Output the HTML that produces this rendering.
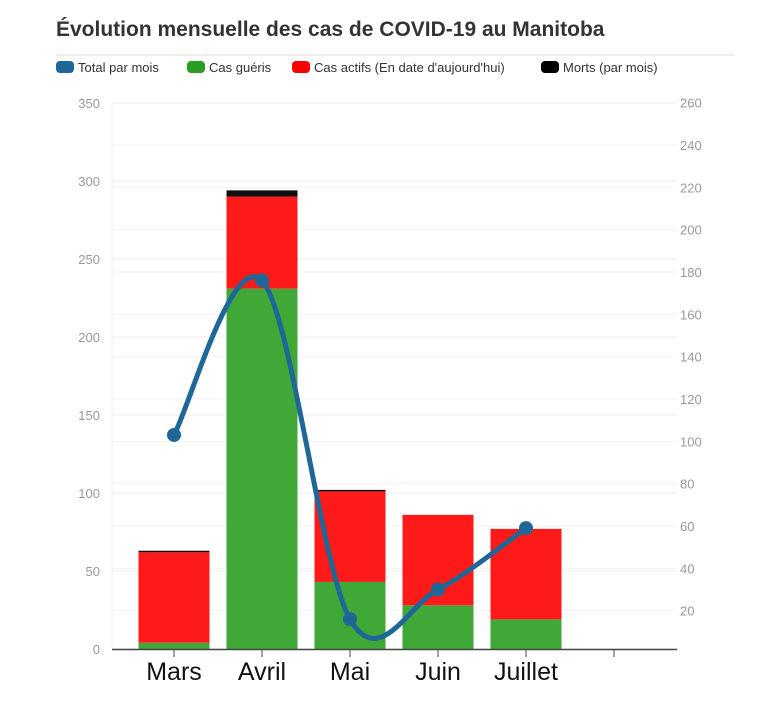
<!DOCTYPE html>
<html><head><meta charset="utf-8"><style>
body{margin:0;background:#fff;font-family:"Liberation Sans",sans-serif;}
</style></head><body>
<svg width="768" height="696" xmlns="http://www.w3.org/2000/svg" font-family="Liberation Sans, sans-serif">
<text x="56" y="36" font-size="21" font-weight="bold" fill="#333">Évolution mensuelle des cas de COVID-19 au Manitoba</text>
<line x1="56" y1="55" x2="734" y2="55" stroke="#ddd"/>
<g id="legend"></g>
<g id="grid"></g><g id="bars"></g><g id="line"></g><g id="axes"></g>
</svg>
<script>
const categories=["Mars","Avril","Mai","Juin","Juillet",""];
const recovered=[4,231,43,28,19];
const active=[58,59,58,58,58];
const deaths=[1,4,1,0,0];
const totals=[103,176,16,30,59];
const leftTicks=[0,50,100,150,200,250,300,350];
const rightTicks=[20,40,60,80,100,120,140,160,180,200,220,240,260];
const NS="http://www.w3.org/2000/svg";
function mk(tag,attrs,parent,text){const e=document.createElementNS(NS,tag);for(const k in attrs)e.setAttribute(k,attrs[k]);if(text!==undefined)e.textContent=text;parent.appendChild(e);return e;}
const yL=v=>649-v*(546/350);
const yR=v=>653-v*(508/240);
const xC=i=>174+88*i;
const grid=document.getElementById('grid'),bars=document.getElementById('bars'),lineG=document.getElementById('line'),axes=document.getElementById('axes'),legend=document.getElementById('legend');
leftTicks.forEach(t=>{
 const l=mk('line',{x1:112,x2:677,y1:yL(t),y2:yL(t),stroke:'#eee'},grid);
 
 
 const tx=mk('text',{x:100,y:yL(t)+5,'text-anchor':'end','font-size':13,fill:'#999'},axes,t);
 
 
});
rightTicks.forEach(t=>{
 const l=mk('line',{x1:112,x2:677,y1:yR(t),y2:yR(t),stroke:'#f2f2f2'},grid);
 
 
 const tx=mk('text',{x:680,y:yR(t)+5,'font-size':13,fill:'#999'},axes,t);
 
 
});
mk('line',{x1:112,x2:112,y1:103,y2:649,stroke:'#eee'},grid);
recovered.forEach((g,i)=>{
 const x=xC(i)-35.5;
 let b=mk('rect',{x:x,width:71,y:yL(g),height:yL(0)-yL(g),fill:'#3fa836'},bars);
 
 
 b=mk('rect',{x:x,width:71,y:yL(g+active[i]),height:yL(g)-yL(g+active[i]),fill:'#ff1a1a'},bars);
 
 
 const s=g+active[i];
 b=mk('rect',{x:x,width:71,y:yL(s+deaths[i]),height:yL(s)-yL(s+deaths[i]),fill:'#111'},bars);
 
 
});
// smooth line (catmull-rom)
const pts=totals.map((v,i)=>[xC(i),yR(v)]);
let d='M'+pts[0][0]+','+pts[0][1];
for(let i=0;i<pts.length-1;i++){
 const p0=pts[i-1]||pts[i],p1=pts[i],p2=pts[i+1],p3=pts[i+2]||p2;
 const c1=[p1[0]+(p2[0]-p0[0])/6,p1[1]+(p2[1]-p0[1])/6],c2=[p2[0]-(p3[0]-p1[0])/6,p2[1]-(p3[1]-p1[1])/6];
 d+=` C${c1[0]},${c1[1]} ${c2[0]},${c2[1]} ${p2[0]},${p2[1]}`;
}
const pl=mk('path',{d:d,fill:'none',stroke:'#1f6796','stroke-width':5},lineG);


pts.forEach((p,i)=>{
 const c=mk('circle',{cx:p[0],cy:p[1],r:7,fill:'#1f6796'},lineG);
 
 
});
mk('line',{x1:112,x2:677,y1:649.5,y2:649.5,stroke:'#444','stroke-width':1.5},axes);
categories.forEach((c,i)=>{
 mk('line',{x1:xC(i),x2:xC(i),y1:649,y2:657,stroke:'#444'},axes);
 const t=mk('text',{x:xC(i),y:680,'text-anchor':'middle','font-size':25,fill:'#111'},axes,c);
 
 
});
const items=[["Total par mois","#1f6796",56],["Cas guéris","#2a9e22",187],["Cas actifs (En date d'aujourd'hui)","#ff0000",292],["Morts (par mois)","#000",541]];
items.forEach(it=>{
 const r=mk('rect',{x:it[2],y:61,width:18,height:12,rx:4,fill:it[1]},legend);
 
 
 const t=mk('text',{x:it[2]+22,y:72,'font-size':13,fill:'#333'},legend,it[0]);
 
 
});
</script>
</body></html>
